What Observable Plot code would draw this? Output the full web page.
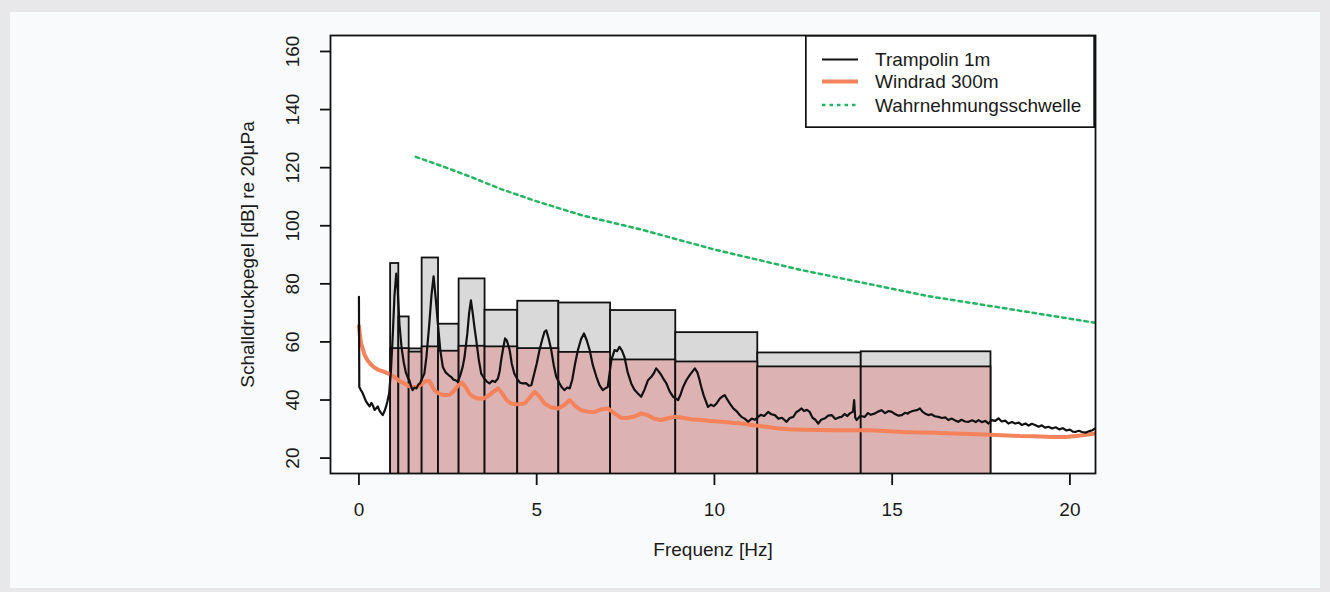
<!DOCTYPE html>
<html><head><meta charset="utf-8">
<script src="https://cdn.jsdelivr.net/npm/d3@7"></script>
<script src="https://cdn.jsdelivr.net/npm/@observablehq/plot@0.6"></script>
<style>
body{margin:0;background:#e8e8eb;}
#wrap{position:relative;width:1330px;height:592px;background:#e8e8eb;overflow:hidden;font-family:"Liberation Sans",Arial,Helvetica,sans-serif;}
#panel{position:absolute;left:10px;top:12px;width:1310px;height:576px;background:#f9fafc;}
#chart{position:absolute;left:0;top:0;}
#legend{position:absolute;left:805px;top:35px;width:290px;height:93px;}
</style>
</head><body>
<div id="wrap"><div id="panel"></div><div id="chart"></div>
<svg id="legend" width="290" height="93" xmlns="http://www.w3.org/2000/svg" style="font-family:'Liberation Sans',Arial,sans-serif;font-size:19px;">
  <rect x="0.8" y="0.8" width="288.4" height="91.4" fill="#fff" stroke="#111" stroke-width="1.8"/>
  <line x1="17" x2="53" y1="24.5" y2="24.5" stroke="#111" stroke-width="2"/>
  <line x1="17" x2="53" y1="46.5" y2="46.5" stroke="#f4825a" stroke-width="4"/>
  <line x1="17" x2="53" y1="70" y2="70" stroke="#22b562" stroke-width="2.5" stroke-dasharray="3.5,4"/>
  <text x="70" y="24.5" dy="0.35em" fill="#1a1a1a">Trampolin 1m</text>
  <text x="70" y="46.5" dy="0.35em" fill="#1a1a1a">Windrad 300m</text>
  <text x="70" y="70" dy="0.35em" fill="#1a1a1a">Wahrnehmungsschwelle</text>
</svg>
</div>
<script>
// Third-octave band edges (Hz) and band levels (dB)
const bandLo = [0.891,1.122,1.413,1.778,2.239,2.818,3.548,4.467,5.623,7.079,8.913,11.22,14.13];
const bandHi = [1.122,1.413,1.778,2.239,2.818,3.548,4.467,5.623,7.079,8.913,11.22,14.13,17.78];
const bandTrampolin = [87.0,68.6,57.6,88.9,66.1,81.7,70.9,74.0,73.4,70.8,63.2,56.2,56.6];
const bandWindrad  = [57.7,57.7,56.5,58.3,56.8,58.5,58.3,57.7,56.4,53.8,53.1,51.4,51.4];

// Trampolin 1m spectrum
const trampFreq = [0.00,0.01,0.05,0.10,0.15,0.20,0.24,0.30,0.35,0.39,0.44,0.48,0.53,0.57,0.62,0.67,0.72,0.76,0.80,0.85,0.90,0.95,1.00,1.05,1.09,1.14,1.20,1.26,1.32,1.38,1.42,1.47,1.51,1.56,1.62,1.67,1.72,1.78,1.84,1.90,1.98,2.04,2.10,2.16,2.22,2.29,2.36,2.44,2.52,2.59,2.66,2.72,2.78,2.85,2.92,2.97,3.05,3.10,3.15,3.20,3.25,3.30,3.37,3.44,3.52,3.60,3.67,3.75,3.83,3.91,3.96,4.00,4.06,4.11,4.16,4.24,4.30,4.37,4.45,4.53,4.61,4.70,4.78,4.85,4.92,5.00,5.08,5.16,5.22,5.27,5.34,5.41,5.48,5.55,5.63,5.70,5.78,5.86,5.93,6.00,6.08,6.16,6.25,6.33,6.41,6.49,6.58,6.68,6.77,6.86,6.93,7.00,7.10,7.19,7.26,7.33,7.40,7.47,7.56,7.66,7.75,7.84,7.94,8.03,8.13,8.22,8.30,8.36,8.41,8.50,8.57,8.65,8.74,8.84,8.91,8.98,9.05,9.12,9.21,9.30,9.38,9.45,9.52,9.58,9.63,9.70,9.76,9.82,9.90,9.98,10.06,10.15,10.22,10.29,10.36,10.45,10.53,10.62,10.70,10.76,10.85,10.95,11.05,11.14,11.23,11.30,11.40,11.51,11.60,11.70,11.80,11.90,12.03,12.12,12.22,12.30,12.38,12.45,12.52,12.60,12.68,12.76,12.84,12.92,13.00,13.11,13.20,13.30,13.40,13.50,13.58,13.66,13.74,13.81,13.90,13.93,13.96,14.00,14.10,14.23,14.32,14.40,14.52,14.60,14.70,14.80,14.90,14.99,15.08,15.18,15.27,15.36,15.44,15.50,15.60,15.70,15.78,15.85,15.93,16.02,16.10,16.20,16.30,16.40,16.50,16.58,16.68,16.78,16.86,16.95,17.05,17.15,17.25,17.35,17.43,17.52,17.62,17.71,17.80,17.90,17.99,18.08,18.18,18.27,18.37,18.46,18.56,18.65,18.75,18.84,18.93,19.02,19.12,19.21,19.30,19.40,19.50,19.60,19.70,19.80,19.90,20.00,20.08,20.15,20.25,20.34,20.45,20.55,20.63,20.71];
const trampDb = [75.5,44.5,43.5,42.5,41.0,39.5,38.8,37.8,39.0,38.2,36.6,37.1,37.8,36.5,35.6,34.8,36.2,37.6,39.5,42.3,50,62,76,83.5,78,66,58,53,49.5,47.5,46.8,44.5,43.4,44.3,44.0,45.3,45.8,47.5,49.1,55,66.3,76,82.6,75,66.3,57,51.4,49.5,48.6,48.0,47.0,46.8,46.2,48.5,51.5,54.8,63,70,74.3,70,65,60.6,54,49.1,47.5,46.3,45.7,46.6,46.2,47.4,50,53.7,58,61.2,60.5,57.2,52.5,49.1,47.3,46.0,45.7,45.8,44.9,45.1,48.5,52.5,57.2,61,63.5,64.0,61,57.2,52,48.0,46,44.5,43.4,44.3,44.0,47,52.5,57.2,61,62.9,60.5,57.2,52,48.0,45,43.4,44.0,44.5,53.7,57.2,56.8,58.3,57,54.8,49.5,45.7,43.5,42.3,41.1,43.5,46.8,47.9,49.3,50.9,50.2,48.7,47.2,45.7,43.0,41.1,40.5,40.0,42,44.5,46.8,48.5,49.8,50.9,49.5,47.0,44.5,41.5,39.5,37.6,38.4,37.9,38.8,40.5,41.2,41.7,40.2,38.5,37.1,36.2,35.0,34.2,33.6,32.5,33.6,33.2,34.2,34.9,34.5,35.9,35.1,34.8,33.6,33.9,32.5,33.8,34.2,35.8,36.4,37.1,36.2,36.6,35.9,33.9,33.2,31.9,33.2,33.7,34.6,34.8,33.5,34.0,34.2,35.2,34.5,35.4,36,40.0,34.0,33.1,34.5,34.2,35.5,34.9,35.4,36.0,36.5,35.5,36.2,35.9,35.2,34.6,34.8,35.6,35.3,35.9,36.3,36.5,37.1,36.0,35.3,34.8,35.1,34.4,34.2,33.8,34.0,33.1,33.6,32.9,32.5,33.2,32.6,32.5,33.0,32.4,33.1,32.4,32.8,31.9,33.1,32.8,33.7,32.6,32.9,31.9,32.4,31.9,32.2,31.4,31.9,31.2,31.8,31.4,30.8,31.3,30.5,30.8,30.2,30.6,29.9,30.3,29.5,29.8,29.1,29.0,29.4,29.0,28.8,29.3,29.6,30.2];

// Windrad 300m spectrum
const windFreq = [0.00,0.03,0.06,0.10,0.16,0.24,0.33,0.43,0.55,0.71,0.85,0.99,1.13,1.28,1.40,1.51,1.63,1.75,1.88,1.98,2.06,2.12,2.24,2.40,2.55,2.66,2.78,2.90,3.00,3.10,3.20,3.35,3.50,3.65,3.80,3.91,4.02,4.15,4.28,4.45,4.66,4.80,4.94,5.06,5.22,5.40,5.60,5.78,5.93,6.08,6.25,6.45,6.63,6.82,7.00,7.18,7.38,7.55,7.75,7.94,8.12,8.30,8.50,8.70,8.88,9.10,9.35,9.63,9.90,10.20,10.50,10.76,11.10,11.45,11.75,12.08,12.50,13.00,13.39,13.85,14.33,14.80,15.27,15.80,16.20,16.68,17.20,17.60,18.08,18.60,19.00,19.49,19.90,20.30,20.71];
const windDb = [65.5,62,59.5,58.0,55.5,53.7,52.3,51.2,50.4,49.7,49.0,48.0,46.6,45.7,44.8,44.5,44.6,45.3,46.5,46.6,44.8,43.4,42.3,41.7,41.8,43.0,44.8,46.0,44.5,42.3,41.2,40.5,40.5,41.5,43.0,44.0,42.5,40.0,38.8,38.5,38.8,40.8,42.8,41.5,38.8,37.5,37.1,38.3,40.0,38.0,36.5,36.0,35.9,36.8,37.1,35.5,33.9,33.8,34.3,35.4,34.8,33.6,33.1,33.7,34.2,33.9,33.4,33.1,32.8,32.5,32.2,31.9,31.3,30.8,30.3,29.9,29.8,29.7,29.6,29.6,29.6,29.3,29.0,28.8,28.7,28.5,28.3,28.1,27.9,27.6,27.5,27.3,27.3,27.8,28.5];

// Wahrnehmungsschwelle (perception threshold)
const threshFreq = [1.6,2,2.5,3.15,4,5,6.3,8,10,12.5,16,20,25];
const threshDb = [123.7,122.0,119.8,116.8,112.6,108.4,103.5,98.5,91.8,84.6,75.8,68.0,58.0];

const xTicks = [0,5,10,15,20];
const yTicks = [20,40,60,80,100,120,140,160];

const bands = bandLo.map((lo,i) => ({lo, hi: bandHi[i], tramp: bandTrampolin[i], wind: bandWindrad[i]}));
const tramp = trampFreq.map((f,i) => ({f, db: trampDb[i]}));
const wind = windFreq.map((f,i) => ({f, db: windDb[i]}));
const thresh = threshFreq.map((f,i) => ({f, db: threshDb[i]}));

const ink = "#1a1a1a";
const chart = Plot.plot({
  width: 1330, height: 592,
  marginLeft: 330, marginRight: 235, marginTop: 35, marginBottom: 119,
  style: {background: "transparent", fontFamily: "'Liberation Sans', Arial, sans-serif", fontSize: "19px", color: ink},
  x: {domain: [-0.8, 20.72]},
  y: {domain: [14.7, 165.5]},
  marks: [
    Plot.frame({fill: "#ffffff"}),
    Plot.rect(bands, {x1: "lo", x2: "hi", y1: 0, y2: "tramp", fill: "#d9d9d9", stroke: "#111", strokeWidth: 1.8, clip: true}),
    Plot.rect(bands, {x1: "lo", x2: "hi", y1: 0, y2: "wind", fill: "#dcb3b2", stroke: "#111", strokeWidth: 1.8, clip: true}),
    Plot.line(wind, {x: "f", y: "db", stroke: "#f4825a", strokeWidth: 4, clip: true}),
    Plot.line(tramp, {x: "f", y: "db", stroke: "#111", strokeWidth: 2.2, clip: true}),
    Plot.line(thresh, {x: "f", y: "db", stroke: "#22b562", strokeWidth: 2.5, strokeDasharray: "3.5,4", clip: true}),
    Plot.frame({stroke: "#111", strokeWidth: 1.8}),
    Plot.axisX({ticks: xTicks, tickSize: 12, tickPadding: 17, label: null, stroke: "#111", strokeWidth: 1.8, tickFormat: d => String(d)}),
    Plot.axisY({ticks: yTicks, tickSize: 10, tickRotate: -90, tickPadding: 22, label: null, stroke: "#111", strokeWidth: 1.8, tickFormat: d => String(d)}),
    Plot.text(["Frequenz [Hz]"], {frameAnchor: "bottom", dy: 82, text: d => d, fill: ink}),
    Plot.text(["Schalldruckpegel [dB] re 20µPa"], {frameAnchor: "left", dx: -83, rotate: -90, textAnchor: "middle", text: d => d, fill: ink})
  ]
});
document.getElementById("chart").appendChild(chart);
</script>
</body></html>
